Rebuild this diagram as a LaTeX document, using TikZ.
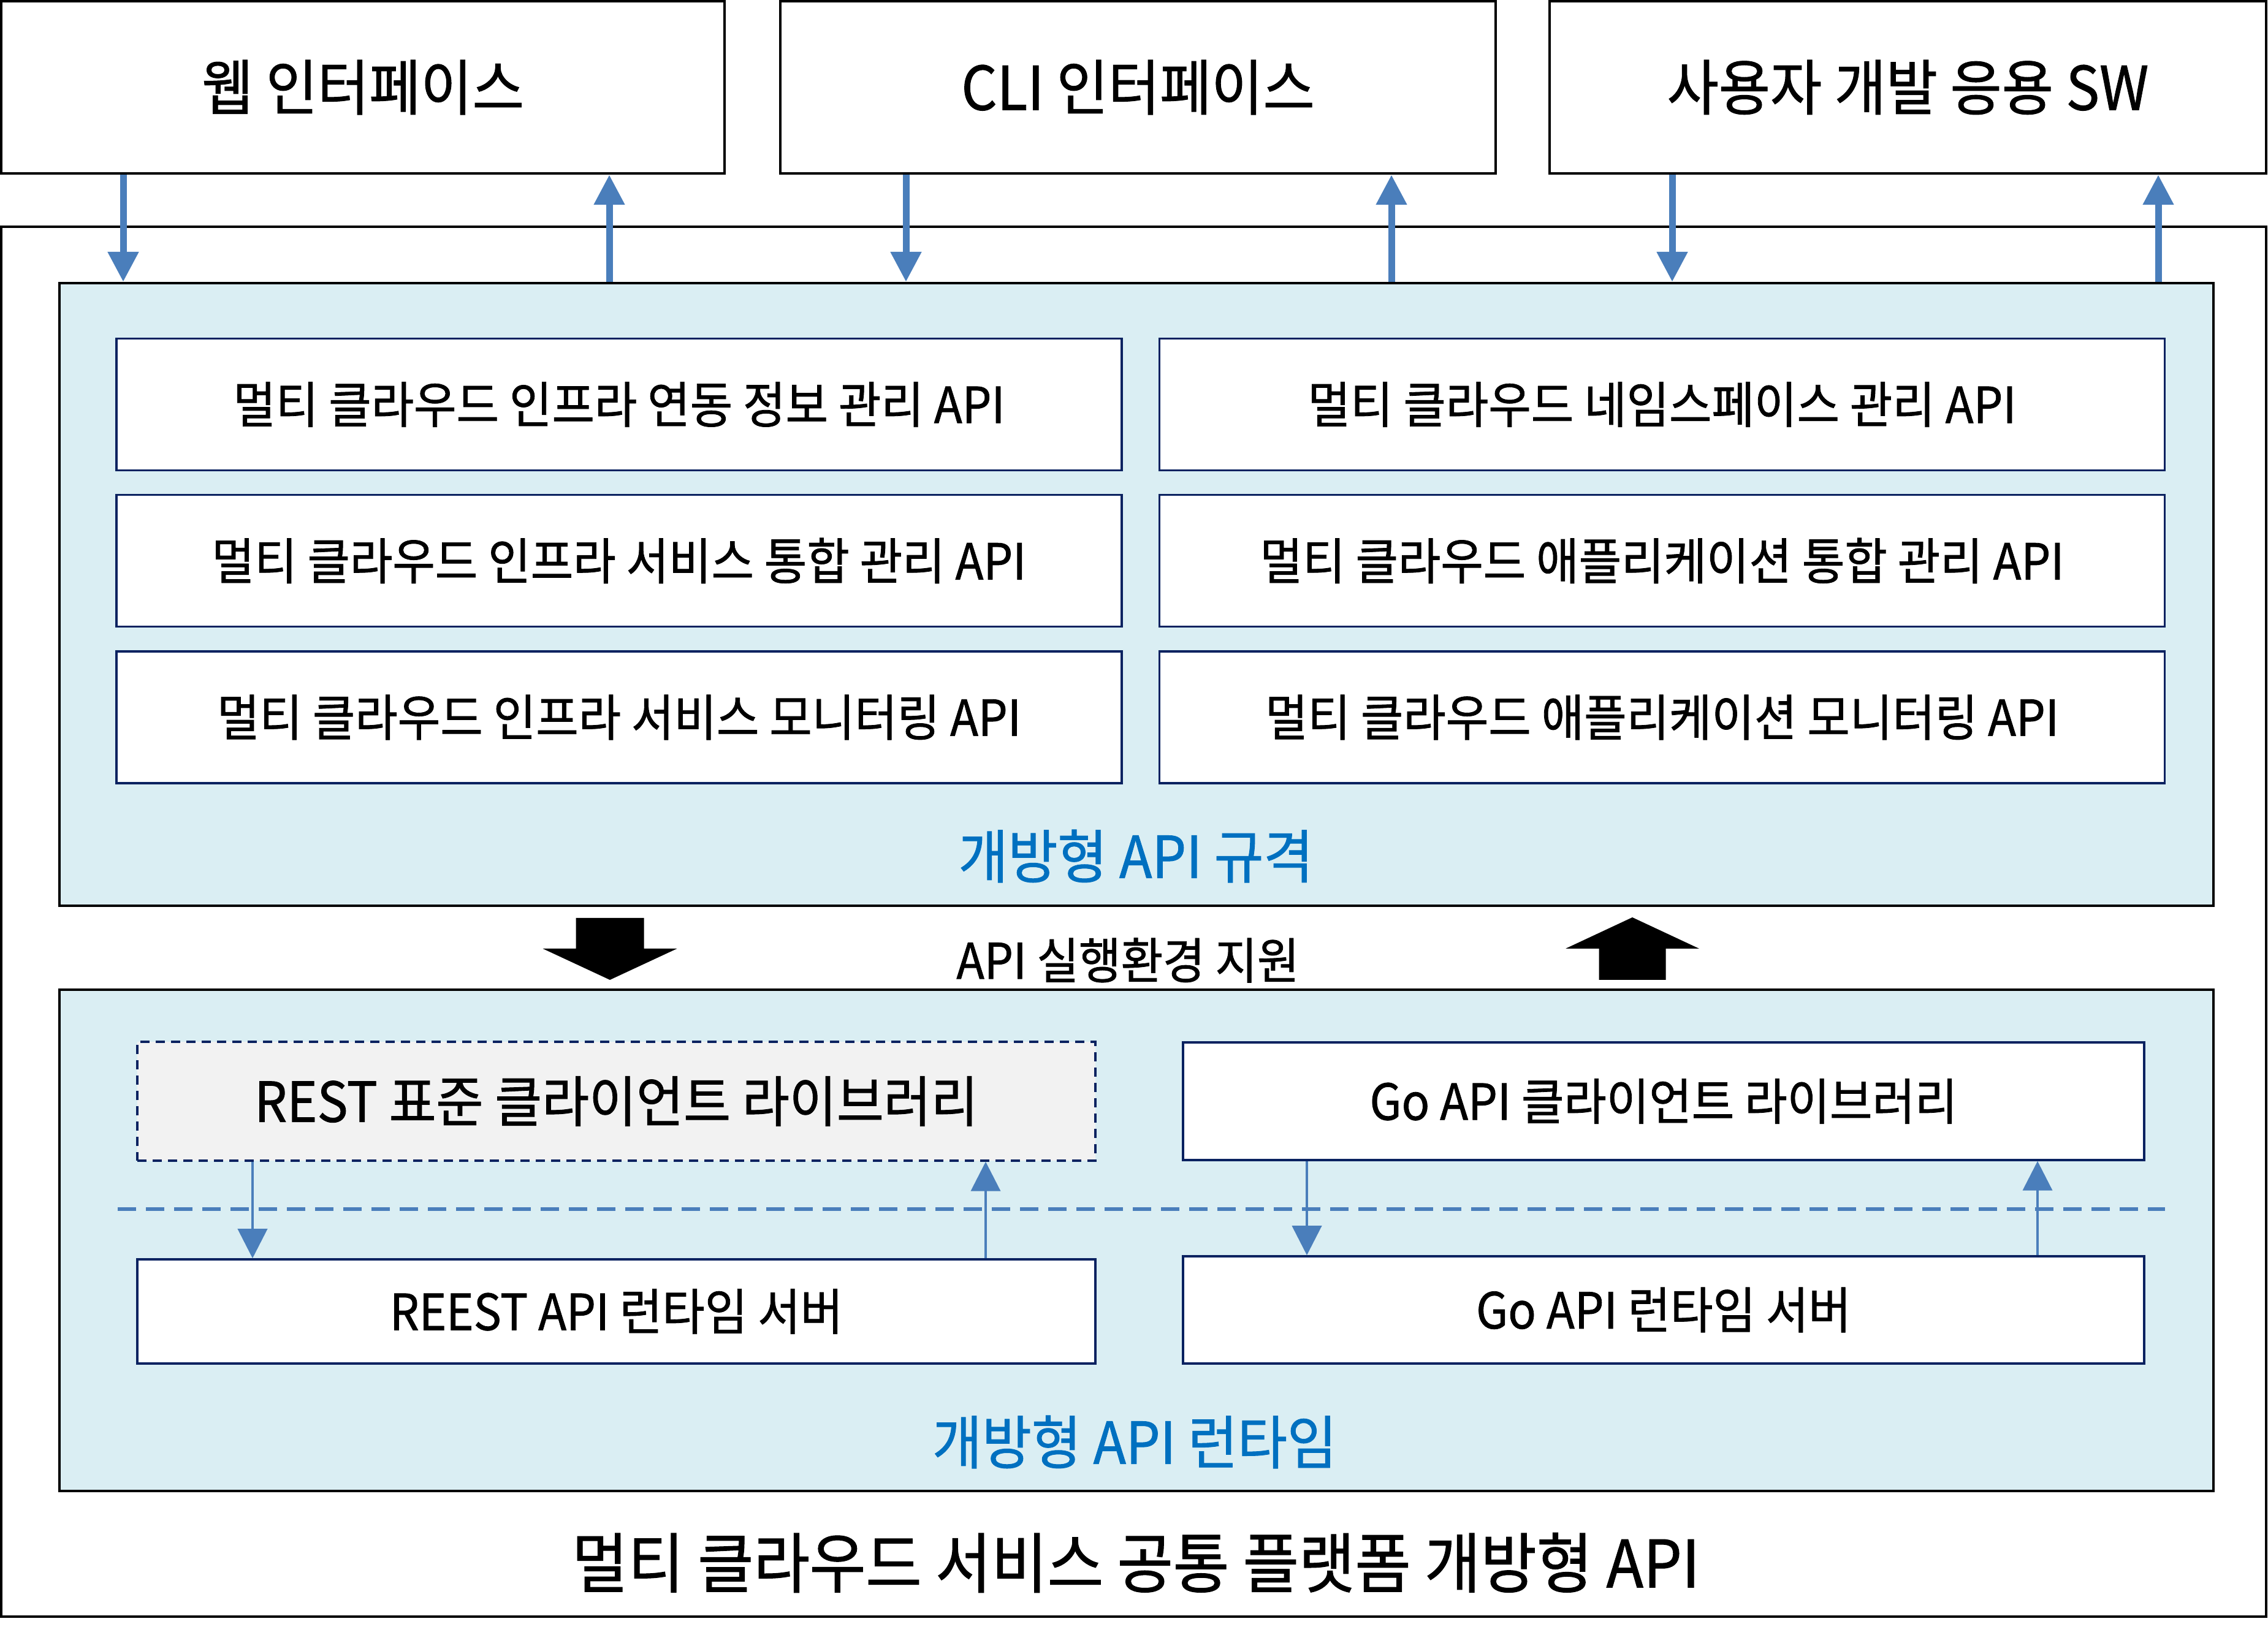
\documentclass[tikz,border=0pt]{standalone}
\usepackage{fontspec}
\setmainfont{Noto Sans CJK KR}[FakeStretch=0.93, FakeBold=1]
\usetikzlibrary{arrows.meta}
\definecolor{layerfill}{HTML}{DAEEF3}
\definecolor{navyline}{HTML}{0A2260}
\definecolor{linkblue}{HTML}{4A7EBB}
\definecolor{labelblue}{HTML}{0070C0}
\definecolor{libgray}{HTML}{F2F2F2}

\begin{document}
\begin{tikzpicture}[
	topbox/.style={draw=black, line width=0.045cm, fill=white, minimum height=2.81cm, inner sep=0pt, font=\fontsize{28pt}{33pt}\selectfont},
	layer/.style={draw=black, line width=0.04cm, fill=layerfill, minimum width=35.14cm, inner sep=0pt},
	apibox/.style={draw=navyline, line width=0.035cm, fill=white, minimum width=16.4cm, minimum height=2.15cm, inner sep=0pt, font=\fontsize{23.1pt}{28pt}\selectfont},
	libbox/.style={draw=navyline, line width=0.035cm, fill=white, minimum width=15.65cm, inner sep=0pt, font=\fontsize{23.1pt}{28pt}\selectfont},
	bluelabel/.style={text=labelblue, font=\fontsize{26.9pt}{32pt}\selectfont},
	linkarrow/.style={draw=linkblue, line width=0.11cm, -{Triangle[length=0.49cm,width=0.48cm]}},
	callarrow/.style={draw=linkblue, line width=0.04cm, -{Triangle[length=0.48cm,width=0.48cm]}},
]
	\useasboundingbox (0,0) rectangle (37,26.68);
	% client side boxes
	\node[topbox, minimum width=11.8cm] (web) at (5.92,25.255) {웹 인터페이스};
	\node[topbox, minimum width=11.67cm] (cli) at (18.565,25.255) {CLI 인터페이스};
	\node[topbox, minimum width=11.69cm] (usrsw) at (31.125,25.255) {사용자 개발 응용 SW};
	% platform frame
	\node[draw, line width=0.045cm, minimum width=36.95cm, minimum height=22.68cm, inner sep=0pt] (platform) at (18.495,11.64) {};
	\node[font=\fontsize{30.4pt}{36pt}\selectfont] (title) at (18.53,1.18) {멀티 클라우드 서비스 공통 플랫폼 개방형 API};
	% open API spec layer
	\node[layer, minimum height=10.16cm] (spec) at (18.54,16.98) {};
	\node[apibox] (infralink) at (10.10,20.08) {멀티 클라우드 인프라 연동 정보 관리 API};
	\node[apibox] (nsmgmt) at (27.115,20.08) {멀티 클라우드 네임스페이스 관리 API};
	\node[apibox] (infrasvc) at (10.10,17.53) {멀티 클라우드 인프라 서비스 통합 관리 API};
	\node[apibox] (appmgmt) at (27.115,17.53) {멀티 클라우드 애플리케이션 통합 관리 API};
	\node[apibox] (inframon) at (10.10,14.975) {멀티 클라우드 인프라 서비스 모니터링 API};
	\node[apibox] (appmon) at (27.115,14.975) {멀티 클라우드 애플리케이션 모니터링 API};
	\node[bluelabel] (speclabel) at (18.53,12.71) {개방형 API 규격};
	% client <-> spec arrows
	\draw[linkarrow] (web.south -| 2.01,0) -- (spec.north -| 2.01,0);
	\draw[linkarrow] (spec.north -| 9.94,0) -- (web.south -| 9.94,0);
	\draw[linkarrow] (cli.south -| 14.78,0) -- (spec.north -| 14.78,0);
	\draw[linkarrow] (spec.north -| 22.70,0) -- (cli.south -| 22.70,0);
	\draw[linkarrow] (usrsw.south -| 27.28,0) -- (spec.north -| 27.28,0);
	\draw[linkarrow] (spec.north -| 35.21,0) -- (usrsw.south -| 35.21,0);
	% block arrows between layers
	\fill (9.395,11.70) -- (10.505,11.70) -- (10.505,11.20) -- (11.045,11.20) -- (9.95,10.69) -- (8.855,11.20) -- (9.395,11.20) -- cycle;
	\fill (26.085,10.69) -- (27.175,10.69) -- (27.175,11.20) -- (27.72,11.20) -- (26.63,11.71) -- (25.54,11.20) -- (26.085,11.20) -- cycle;
	\node[font=\fontsize{22.8pt}{27pt}\selectfont] (support) at (18.40,11.01) {API 실행환경 지원};
	% open API runtime layer
	\node[layer, minimum height=8.18cm] (runtime) at (18.54,6.44) {};
	\draw[draw=linkblue, line width=0.06cm, dash pattern=on 0.3cm off 0.16cm] (1.92,6.95) -- (35.32,6.95);
	\node[libbox, fill=libgray, dash pattern=on 0.15cm off 0.1cm, minimum width=15.63cm, minimum height=1.94cm, font=\fontsize{25.6pt}{30pt}\selectfont] (restlib) at (10.055,8.71) {REST 표준 클라이언트 라이브러리};
	\node[libbox, minimum width=15.63cm, minimum height=1.70cm] (restsrv) at (10.055,5.28) {REEST API 런타임 서버};
	\node[libbox, minimum width=15.68cm, minimum height=1.92cm] (golib) at (27.14,8.71) {Go API 클라이언트 라이브러리};
	\node[libbox, minimum width=15.68cm, minimum height=1.75cm] (gosrv) at (27.14,5.305) {Go API 런타임 서버};
	\draw[callarrow] (restlib.south -| 4.12,0) -- (restsrv.north -| 4.12,0);
	\draw[callarrow] (restsrv.north -| 16.08,0) -- (restlib.south -| 16.08,0);
	\draw[callarrow] (golib.south -| 21.32,0) -- (gosrv.north -| 21.32,0);
	\draw[callarrow] (gosrv.north -| 33.24,0) -- (golib.south -| 33.24,0);
	\node[bluelabel] (runlabel) at (18.51,3.15) {개방형 API 런타임};
\end{tikzpicture}
\end{document}
